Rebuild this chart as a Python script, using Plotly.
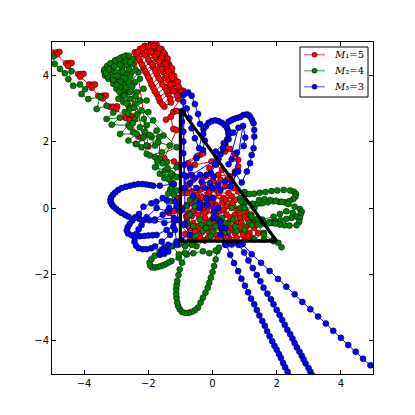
import plotly.graph_objects as go

# every list below is (x, y)
red_arm = [(-5.10,4.72),(-4.98,4.68),(-4.85,4.68),(-4.77,4.70),(-4.85,4.62),(-4.56,4.36),(-4.46,4.36),(-4.39,4.37),
           (-4.50,4.28),(-4.18,4.03),(-4.11,4.03),(-4.02,4.04),(-4.12,3.95),(-3.84,3.72),(-3.73,3.71),(-3.66,3.72),
           (-3.76,3.62),(-3.56,3.38),(-3.42,3.38),(-3.32,3.39),(-3.42,3.30),(-3.19,3.05),(-3.09,3.05),(-2.97,3.06),
           (-3.00,2.98),(-2.70,2.71),(-2.57,2.71),(-2.50,2.75),(-2.58,2.65),(-2.31,2.15),(-2.21,2.11),(-2.00,1.85)]
red_fan = [(-2.42,4.69),(-2.26,4.79),(-2.11,4.89),(-1.90,4.94),(-1.74,4.92),(-1.59,4.79),
           (-1.48,4.62),(-1.59,4.72),(-1.79,4.82),(-2.00,4.79),(-2.21,4.69),(-2.36,4.59),
           (-2.26,4.42),(-2.05,4.59),(-1.85,4.66),(-1.64,4.62),(-1.43,4.46),
           (-1.35,4.32),(-1.53,4.44),(-1.74,4.49),(-1.95,4.39),(-2.15,4.22),
           (-2.05,4.04),(-1.85,4.24),(-1.64,4.29),(-1.43,4.22),(-1.27,4.09),
           (-1.17,3.86),(-1.33,4.02),(-1.53,4.09),(-1.74,4.04),(-1.95,3.84),
           (-1.85,3.63),(-1.61,3.84),(-1.38,3.84),(-1.12,3.74),
           (-1.02,3.58),(-1.27,3.61),(-1.48,3.63),(-1.74,3.43),
           (-1.64,3.21),(-1.38,3.43),(-1.12,3.48),(-0.91,3.53),
           (-1.06,3.28),(-1.30,3.18),(-1.50,3.05),
           (-2.34,4.70),(-2.18,4.82),(-2.00,4.88),(-1.82,4.88),(-1.66,4.80),(-1.52,4.68),
           (-1.40,4.50),(-1.56,4.58),(-1.72,4.66),(-1.92,4.70),(-2.12,4.62),(-2.30,4.50),
           (-2.20,4.32),(-2.00,4.48),(-1.80,4.56),(-1.58,4.52),(-1.40,4.38),
           (-1.26,4.20),(-1.46,4.34),(-1.66,4.40),(-1.86,4.32),(-2.10,4.12),
           (-2.00,3.94),(-1.78,4.14),(-1.58,4.18),(-1.38,4.12),(-1.20,3.98),
           (-1.08,3.80),(-1.26,3.92),(-1.46,3.96),(-1.68,3.92),(-1.90,3.72),
           (-1.80,3.52),(-1.56,3.72),(-1.32,3.72),(-1.06,3.66),
           (-0.96,3.50),(-1.22,3.52),(-1.42,3.52),(-1.68,3.32),(-1.56,3.12),(-1.32,3.30),(-1.10,3.38),(-0.90,3.42),
           (-1.45,2.66),(-1.22,2.89),(-1.12,2.92),(-1.30,2.75),
           (-1.22,2.38),(-1.12,2.35),(-1.50,1.50),(-1.20,1.40),(-1.05,1.30)]
red_core = [(-0.39,1.60),(-0.29,1.65),(-0.49,1.55),(-0.75,1.35),(-0.55,1.30),(-0.03,1.40),(0.39,1.70),(0.55,1.78),
            (0.70,1.63),(0.80,1.45),(0.80,1.25),(0.70,1.10),(0.55,0.95),(0.18,1.00),(0.03,0.80),(-0.23,0.95),
            (-0.60,0.85),(-0.75,0.70),(-0.85,0.60),(-0.65,0.50),(-0.39,0.55),(-0.13,0.40),(0.13,0.55),(0.39,0.65),
            (0.65,0.60),(0.80,0.50),(0.60,0.35),(0.34,0.30),(0.03,0.30),(-0.18,0.25),(-0.44,0.20),(-0.65,0.15),
            (-0.80,0.10),(-0.95,0.00),(-0.18,-0.10),(0.03,-0.16),(0.23,-0.10),(0.44,-0.20),(0.70,-0.20),(0.86,-0.30),
            (0.75,-0.45),(0.49,-0.46),(0.23,-0.40),(-0.03,-0.36),(-0.23,-0.30),(-0.44,-0.20),(-0.65,-0.25),(-0.80,-0.40),
            (-0.70,-0.60),(-0.49,-0.70),(-0.23,-0.60),(0.03,-0.60),(0.29,-0.66),(0.49,-0.72),(0.70,-0.76),(0.86,-0.66),
            (1.06,-0.56),(1.20,-0.40),(1.30,-0.60),(1.42,-0.75),(1.25,-0.90),(1.00,-0.95),(0.80,-1.05),(0.60,-1.02),
            (0.35,-0.85),(0.10,-0.80),(-0.15,-0.90),(-0.40,-0.88),(-0.70,-0.92),(-0.85,-0.78),(-0.60,-0.45),(-0.30,-0.05),
            (0.10,0.10),(0.45,0.05),(0.80,-0.05),(1.00,-0.25),(0.65,0.05),(0.30,0.15),(-0.05,0.60),(-0.35,0.35),
            (-0.55,0.05),(-0.75,-0.15),(0.00,0.20),(0.20,0.45),(0.50,0.45),(0.70,0.25),(0.95,0.05),(1.05,-0.10),
            (1.15,-0.20),(0.90,-0.45),(0.60,-0.60),(0.15,-0.50),(-0.10,-0.75),(-0.45,-0.55),(-0.20,-0.45),(0.05,-0.30),
            (-0.10,1.20),(0.10,1.30),(0.30,1.15),(0.45,0.85),(0.25,0.85),(-0.10,0.50),(-0.30,0.70),(-0.50,0.40),
            (-0.25,-0.15),(-0.05,0.05),(0.12,-0.25),(0.35,-0.05),(0.55,-0.30),(0.85,-0.15),(1.10,-0.35),(1.30,-0.45),
            (1.15,-0.75),(0.95,-0.80),(0.75,-0.90),(0.50,-0.88),(0.25,-0.55),(0.05,-0.45),(-0.15,-0.60),(-0.35,-0.75),
            (-0.55,-0.70),(-0.75,-0.55),(-0.82,-0.25),(-0.60,-0.10),(-0.40,0.05),(-0.62,0.30),(-0.80,0.45),(0.42,0.25),
            (0.60,0.15),(0.90,-0.60),(1.10,-0.85),(0.15,-0.95),(-0.25,-0.98),(-0.55,-0.98),
            (-1.35,-0.15),(-1.20,-0.10),(-1.05,0.05),(-1.10,0.30),(-0.95,0.45)]

green_arm = [(-4.96,4.57),(-4.92,4.34),(-4.75,4.19),(-4.60,4.06),(-4.39,4.12),(-4.49,3.88),(-4.34,3.68),(-4.13,3.72),
             (-3.97,3.58),(-4.08,3.43),(-3.87,3.28),(-3.50,3.34),(-3.61,2.98),(-3.30,3.08),(-3.09,2.88),(-3.30,2.68),
             (-2.88,2.72),(-3.14,2.51),(-2.62,2.49),(-2.88,2.23),(-2.36,2.23),(-2.62,2.03),(-2.39,1.93),(-2.21,1.83),(-2.05,1.63)]
green_fan = [(-2.69,4.59),(-2.83,4.54),(-2.99,4.46),(-3.14,4.34),(-3.30,4.22),(-3.38,4.12),(-3.35,3.99),(-3.24,3.89),
             (-3.09,3.74),(-2.96,3.84),(-3.24,4.04),(-3.14,4.12),(-2.78,4.39),(-2.96,4.34),(-2.59,4.49),
             (-2.47,4.34),(-2.67,4.29),(-2.83,4.19),(-3.00,4.09),(-3.17,3.99),(-2.88,3.64),(-2.73,3.54),
             (-2.31,4.09),(-2.52,4.09),(-2.73,4.04),(-2.91,3.94),(-3.04,3.84),(-2.99,3.59),(-2.83,3.39),
             (-2.26,3.89),(-2.41,3.79),(-2.62,3.79),(-2.78,3.74),(-2.88,3.64),(-2.78,3.39),(-2.93,3.29),(-2.78,3.19),
             (-2.15,3.59),(-2.36,3.49),(-2.57,3.49),(-2.73,3.39),(-2.62,3.09),(-2.73,2.89),
             (-2.05,3.24),(-2.26,3.24),(-2.41,3.14),(-2.57,2.99),(-2.62,2.84),
             (-2.00,2.89),(-2.21,2.94),(-2.41,2.69),(-2.57,2.43),(-2.47,2.28),
             (-1.85,2.64),(-2.05,2.49),(-2.26,2.43),(-2.15,2.13),(-2.36,1.93),
             (-1.74,2.33),(-1.90,2.13),(-1.79,1.88),(-2.05,1.88),
             (-1.53,2.18),(-1.69,1.98),(-1.33,1.88),(-1.58,1.68),(-1.95,1.58),(-1.79,1.53),(-1.12,1.83),
             (-3.36,4.18),(-3.28,4.28),(-3.18,4.36),(-3.04,4.44),(-2.90,4.50),(-2.75,4.56),(-2.60,4.58),(-2.48,4.48),
             (-2.40,4.16),(-2.60,4.18),(-2.80,4.10),(-2.96,3.98),(-3.10,3.86),(-3.26,3.96),(-3.32,4.06),(-3.22,4.18),
             (-3.06,4.26),(-2.88,4.30),(-2.70,4.42),(-2.56,4.40),
             (-2.56,3.96),(-2.72,3.90),(-2.86,3.80),(-2.98,3.70),(-2.90,3.50),(-2.70,3.62),(-2.50,3.66),
             (-2.40,3.36),(-2.56,3.28),(-2.68,3.16),(-2.44,3.02),(-2.34,2.82),(-2.48,2.56),(-2.14,2.68),(-2.10,2.30),
             (-1.96,2.20),(-1.66,2.14),
             (-1.64,1.48),(-1.43,1.38),(-1.79,1.23),(-1.48,1.13),(-1.12,1.23),(-1.22,0.98),(-1.64,1.03),
             (-1.72,1.40),(-1.55,1.35),(-1.40,1.20),(-1.30,1.05),(-1.50,0.90),(-1.30,0.80),(-1.20,0.72),(-1.32,0.55),(-1.20,0.40),
             (-1.38,0.88),(-1.12,0.93),(-1.27,0.63),(-1.38,0.43),(-1.12,0.53),(-1.30,0.20),(-1.10,0.05)]
green_core = [(-1.00,-0.10),(-0.80,0.05),(-0.70,0.25),(-0.50,0.20),(-0.30,0.10),(-0.55,0.05),(-0.70,-0.20),(-0.80,-0.45),
              (-0.60,-0.55),(-0.35,-0.50),(-0.10,-0.45),(0.15,-0.35),(0.30,-0.30),(0.60,0.00),(0.86,0.30),(1.00,0.18),
              (0.86,0.00),(0.65,-0.35),(0.40,-0.60),(0.00,-0.72),(-0.30,-0.70),(-0.60,-0.85),(-1.05,-1.10),(-0.85,-1.12),
              (-0.65,-1.10),(-0.50,-1.15),(-0.05,-0.85),(0.35,-0.75),(0.75,-0.70),(1.15,-0.45),(1.50,-0.50),(1.85,-0.45),
              (1.60,-0.75),(1.30,-0.95),(1.60,-0.95),(1.90,-0.95),(2.05,-1.05),(2.15,-1.18),(1.90,-1.00),(1.60,-0.80),
              (1.20,-0.20),(1.00,0.00),(1.30,0.00),(0.90,0.20),(1.00,-0.65),(0.70,-0.55),(0.40,-0.45),(0.10,-0.55),
              (-0.20,-0.60),(-0.40,-0.35)]
green_right = [(1.00,0.48),(1.01,0.40),(1.15,0.42),(1.29,0.43),(1.47,0.46),(1.65,0.48),(1.84,0.51),(2.02,0.53),(2.22,0.54),
               (2.42,0.53),(2.54,0.49),(2.60,0.42),(2.58,0.34),(2.52,0.27),(2.40,0.21),(2.26,0.17),(2.08,0.18),(1.90,0.20),
               (1.72,0.17),(1.55,0.14),(1.40,0.13),(1.25,0.13),(1.45,0.24),(1.62,0.26),(1.80,0.24),(1.98,0.22),(2.15,0.19),
               (2.36,0.12),(2.56,0.04),(2.72,-0.03),(2.78,-0.11),(2.74,-0.20),(2.62,-0.26),(2.46,-0.30),(2.30,-0.33),(2.12,-0.37),
               (1.95,-0.40),(1.78,-0.43),(1.60,-0.46),(1.40,-0.49),(1.22,-0.51),(1.55,-0.35),(1.90,-0.26),(2.10,-0.18),(2.30,-0.10),
               (2.50,-0.15),(2.72,-0.30),(2.70,-0.42),(2.62,-0.52),(2.40,-0.53),(2.25,-0.52),(2.10,-0.50),(1.95,-0.47),(1.76,-0.44),
               (1.58,-0.41),(1.40,-0.33),(1.22,-0.26)]
green_low = [(0.15,-1.30),(0.10,-1.55),(0.05,-1.75),(0.00,-1.93),(-0.05,-2.10),(-0.10,-2.25),(-0.15,-2.40),(-0.22,-2.55),
             (-0.30,-2.70),(-0.37,-2.85),(-0.45,-3.00),(-0.55,-3.08),(-0.65,-3.13),(-0.75,-3.16),(-0.85,-3.16),(-0.95,-3.13),
             (-1.02,-3.05),(-1.07,-2.95),(-1.10,-2.85),(-1.12,-2.70),(-1.13,-2.58),(-1.13,-2.45),(-1.12,-2.33),(-1.10,-2.20),
             (-1.06,-2.02),(-1.02,-1.85),(-0.95,-1.65),(-0.80,-1.40),(-0.63,-1.10),(-0.85,-1.15),(-1.05,-1.50),(-1.28,-1.60),
             (-1.38,-1.65),(-1.48,-1.70),(-1.58,-1.74),(-1.68,-1.77),(-1.78,-1.79),(-1.87,-1.79),(-1.94,-1.74),(-1.96,-1.65),
             (-1.90,-1.54),(-1.80,-1.44),(-1.65,-1.32),(-1.43,-1.20),(-1.25,-1.15),(-1.05,-1.40),(-0.85,-1.36),(-0.60,-1.36),
             (-0.30,-1.30),(-0.10,-1.36),(0.10,-1.28),(0.20,-1.20)]

blue_left = [(-1.22,0.72),(-1.64,0.67),(-1.85,0.67),(-1.95,0.69),(-2.06,0.71),(-2.18,0.72),(-2.31,0.72),(-2.44,0.70),(-2.57,0.67),(-2.70,0.64),
             (-2.83,0.60),(-2.94,0.54),(-3.03,0.47),(-3.10,0.40),(-3.16,0.32),(-3.18,0.24),(-3.17,0.17),(-3.13,0.10),
             (-3.08,0.04),(-3.00,-0.03),(-2.92,-0.09),(-2.83,-0.15),(-2.72,-0.21),(-2.62,-0.26),(-2.43,-0.30),(-2.27,-0.33),
             (-2.12,-0.36),(-1.96,-0.37),(-1.80,-0.38),(-1.50,-0.45),(-1.20,-0.40),(-1.43,0.24),(-1.75,0.19),(-1.90,0.14),(-2.15,0.04),(-2.29,-0.18),(-2.40,-0.28),
             (-2.50,-0.38),(-2.58,-0.48),(-2.64,-0.58),(-2.67,-0.68),(-2.63,-0.77),(-2.52,-0.82),(-2.39,-0.84),(-2.26,-0.85),
             (-2.12,-0.84),(-2.00,-0.83),(-1.87,-0.82),(-1.74,-0.81),(-1.43,-0.66),(-1.22,-0.56),(-1.07,-0.36),(-1.12,0.05),
             (-1.40,-0.10),(-1.74,0.00),(-2.05,-0.28),(-2.21,-0.51),(-2.30,-0.64),(-2.37,-0.78),(-2.42,-0.90),(-2.43,-1.02),
             (-2.38,-1.14),(-2.30,-1.21),(-2.17,-1.24),(-2.05,-1.24),(-1.91,-1.21),(-1.79,-1.16),(-1.58,-1.01),(-1.32,-0.81),
             (-1.17,-0.66),(-1.12,-1.01),(-1.38,-1.11),(-1.50,-1.18),(-1.58,-1.26),(-1.64,-1.41),(-1.50,-1.38),(-1.38,-1.31),
             (-1.12,-1.11),(-0.97,-0.96),(-0.70,-0.80),(-0.85,-0.50)]
blue_top = [(-0.91,3.40),(-0.85,3.45),(-0.76,3.48),(-0.65,3.38),(-0.55,3.13),(-0.45,2.83),(-0.39,2.53),(-0.29,2.23),(-0.24,2.03),
            (-0.30,1.75),(-0.50,1.50),(-0.70,1.20),(-0.80,0.95),(-0.88,0.60),(-0.90,1.00),(-0.88,1.30),(-0.91,1.65),(-0.91,2.00),
            (-0.91,2.30),(-0.95,2.60),(-0.93,2.90),(-0.91,3.20),(-0.80,3.00),(-0.72,2.70),(-0.65,2.40),(-0.55,2.10),(-0.42,1.80),
            (-0.28,2.37),(-0.20,2.47),(-0.12,2.57),(-0.02,2.62),(0.08,2.64),(0.18,2.62),(0.29,2.57),(0.38,2.50),(0.45,2.42),
            (0.49,2.32),(0.50,2.22),(0.46,2.07),(0.40,1.92),(0.33,1.77),(0.25,1.62),(0.18,1.47),(0.10,1.32),(-0.05,1.05),
            (0.10,1.70),(0.35,1.95),(0.50,2.30),(0.50,2.60),(0.58,2.64),(0.66,2.68),(0.76,2.71),(0.86,2.74),(0.96,2.80),
            (1.06,2.82),(1.12,2.80),(1.17,2.75),(1.23,2.65),(1.28,2.55),(1.30,2.35),(1.30,2.15),(1.28,1.80),(1.22,1.60),
            (1.17,1.35),(1.07,1.10),(0.91,0.77),(0.70,1.05),(0.95,2.47),(1.02,2.12),(0.97,1.87),(0.76,1.67),(0.60,1.47),
            (0.50,1.32),(0.81,2.42),(0.65,2.27),(0.50,2.07),(0.34,1.82),(0.18,1.50)]
blue_core = [(-0.65,1.00),(-0.55,0.90),(-0.39,1.00),(-0.18,1.00),(-0.34,0.80),(-0.08,0.75),(0.03,0.95),(0.18,0.70),(0.39,0.80),
             (0.60,0.80),(0.80,1.10),(0.55,0.65),(0.25,0.55),(0.00,0.60),(-0.23,0.60),(-0.50,0.60),(-0.70,0.75),(-0.60,0.35),
             (-0.39,0.15),(-0.18,0.10),(0.18,0.00),(0.03,-0.30),(0.29,-0.60),(0.39,-1.10),(0.86,-1.10),(0.60,-1.10),(0.40,-0.60),
             (0.25,-0.40),(0.05,-0.10),(-0.20,0.30),(-0.95,-0.05),(-1.15,0.20),(-1.55,0.30),(-1.35,0.00),(-1.55,-0.20),(-1.80,-0.35),
             (-1.20,-0.30),(-0.90,-0.50),(-0.40,0.00),(0.00,0.30),(0.25,-0.80),(0.42,-1.11)]

blue_arm1 = [(0.94,-1.09),(1.22,-1.39),(1.51,-1.65),(1.78,-1.90),(2.04,-2.14),(2.30,-2.37),(2.56,-2.60),(2.80,-2.83),(3.05,-3.05),
             (3.29,-3.27),(3.53,-3.48),(3.76,-3.70),(4.00,-3.91),(4.23,-4.13),(4.46,-4.33),(4.69,-4.54),(4.92,-4.74),(5.15,-4.95)]
blue_arm2 = [(0.81,-1.11),(0.985,-1.34),(1.12,-1.58),(1.255,-1.81),(1.38,-2.02),(1.49,-2.21),(1.59,-2.40),(1.71,-2.58),(1.82,-2.75),
             (1.90,-2.90),(2.00,-3.07),(2.09,-3.22),(2.17,-3.37),(2.25,-3.52),(2.33,-3.67),(2.42,-3.80),(2.49,-3.93),(2.56,-4.07),
             (2.63,-4.20),(2.71,-4.33),(2.78,-4.45),(2.84,-4.56),(2.90,-4.68),(2.99,-4.82),(3.05,-4.93),(3.12,-5.05)]
blue_arm3 = [(0.425,-1.11),(0.55,-1.41),(0.67,-1.66),(0.80,-1.90),(0.90,-2.13),(1.01,-2.34),(1.11,-2.54),(1.20,-2.73),(1.30,-2.90),
             (1.38,-3.07),(1.46,-3.24),(1.55,-3.40),(1.63,-3.55),(1.70,-3.71),(1.78,-3.86),(1.86,-4.01),(1.93,-4.15),(2.00,-4.27),
             (2.07,-4.40),(2.13,-4.52),(2.20,-4.67),(2.26,-4.80),(2.34,-4.93),(2.42,-5.08)]

mass_subs = ["\u2081", "\u2082", "\u2083"]
mass_values = ["5", "4", "3"]
series_colours = ["#ff0000", "#008000", "#0000ff"]
triangle_x = [-1, -1, 2, -1]
triangle_y = [3, -1, -1, 3]
tick_vals = [-4, -2, 0, 2, 4]
tick_text = ["\u22124", "\u22122", "0", "2", "4"]


def add_series(fig, name, colour, *segments):
    # one line through all the pieces, gaps only where a piece ends off the chart
    xs, ys = [], []
    for seg in segments:
        xs += [p[0] for p in seg] + [None]
        ys += [p[1] for p in seg] + [None]
    fig.add_scatter(x=xs, y=ys, name=name, mode="lines+markers", connectgaps=False, showlegend=False,
                    line=dict(color=colour, width=1),
                    marker=dict(color=colour, size=6, line=dict(color="black", width=0.5)))


# pixel position of the reference page -> paper fraction of the plot area
def px(v):
    return (v - 52) / 321


def py(v):
    return (374 - v) / 332


fig = go.Figure()
add_series(fig, "M1=5", series_colours[0], red_arm + red_fan + red_core)
add_series(fig, "M2=4", series_colours[1], green_arm + green_fan + green_core, green_right, green_low)
add_series(fig, "M3=3", series_colours[2], blue_left + blue_top + blue_core, blue_arm1, blue_arm2, blue_arm3)
fig.add_scatter(x=triangle_x, y=triangle_y, mode="lines", showlegend=False,
                line=dict(color="black", width=3.2))

# the legend rows of plotly are at least 19 px high, the reference has 16, so it is drawn by hand
fig.add_shape(type="rect", xref="paper", yref="paper", x0=px(300), x1=px(368), y0=py(47), y1=py(97),
              fillcolor="white", line=dict(color="black", width=1), layer="above")
for i, colour in enumerate(series_colours):
    row = 54.7 + 16 * i
    fig.add_shape(type="line", xref="paper", yref="paper", x0=px(304), x1=px(325), y0=py(row), y1=py(row),
                  line=dict(color=colour, width=1.6), opacity=0.5, layer="above")
    fig.add_shape(type="circle", xref="paper", yref="paper", x0=px(312), x1=px(317), y0=py(row - 2.5), y1=py(row + 2.5),
                  fillcolor=colour, line=dict(color="black", width=0.5), layer="above")
    fig.add_annotation(xref="paper", yref="paper", x=px(332), y=py(row), xanchor="left", yanchor="middle", showarrow=False,
                       text=f"<i>M</i>{mass_subs[i]}={mass_values[i]}",
                       font=dict(family="DejaVu Serif", size=10, color="black"))

axis = dict(range=[-5, 5], tickvals=tick_vals, ticktext=tick_text, ticks="inside", ticklen=4, tickcolor="black",
            showgrid=False, zeroline=False, showline=True, linecolor="black", linewidth=1, mirror="ticks",
            tickfont=dict(family="DejaVu Sans", size=10, color="black"))
# the page has a body margin of 8 px, so the figure is 16 px smaller than the window
fig.update_layout(width=399, height=399, margin=dict(l=44, r=34, t=34, b=33), autosize=False, showlegend=False,
                  paper_bgcolor="white", plot_bgcolor="white", xaxis=axis, yaxis=axis)
fig.write_html("out.html")
